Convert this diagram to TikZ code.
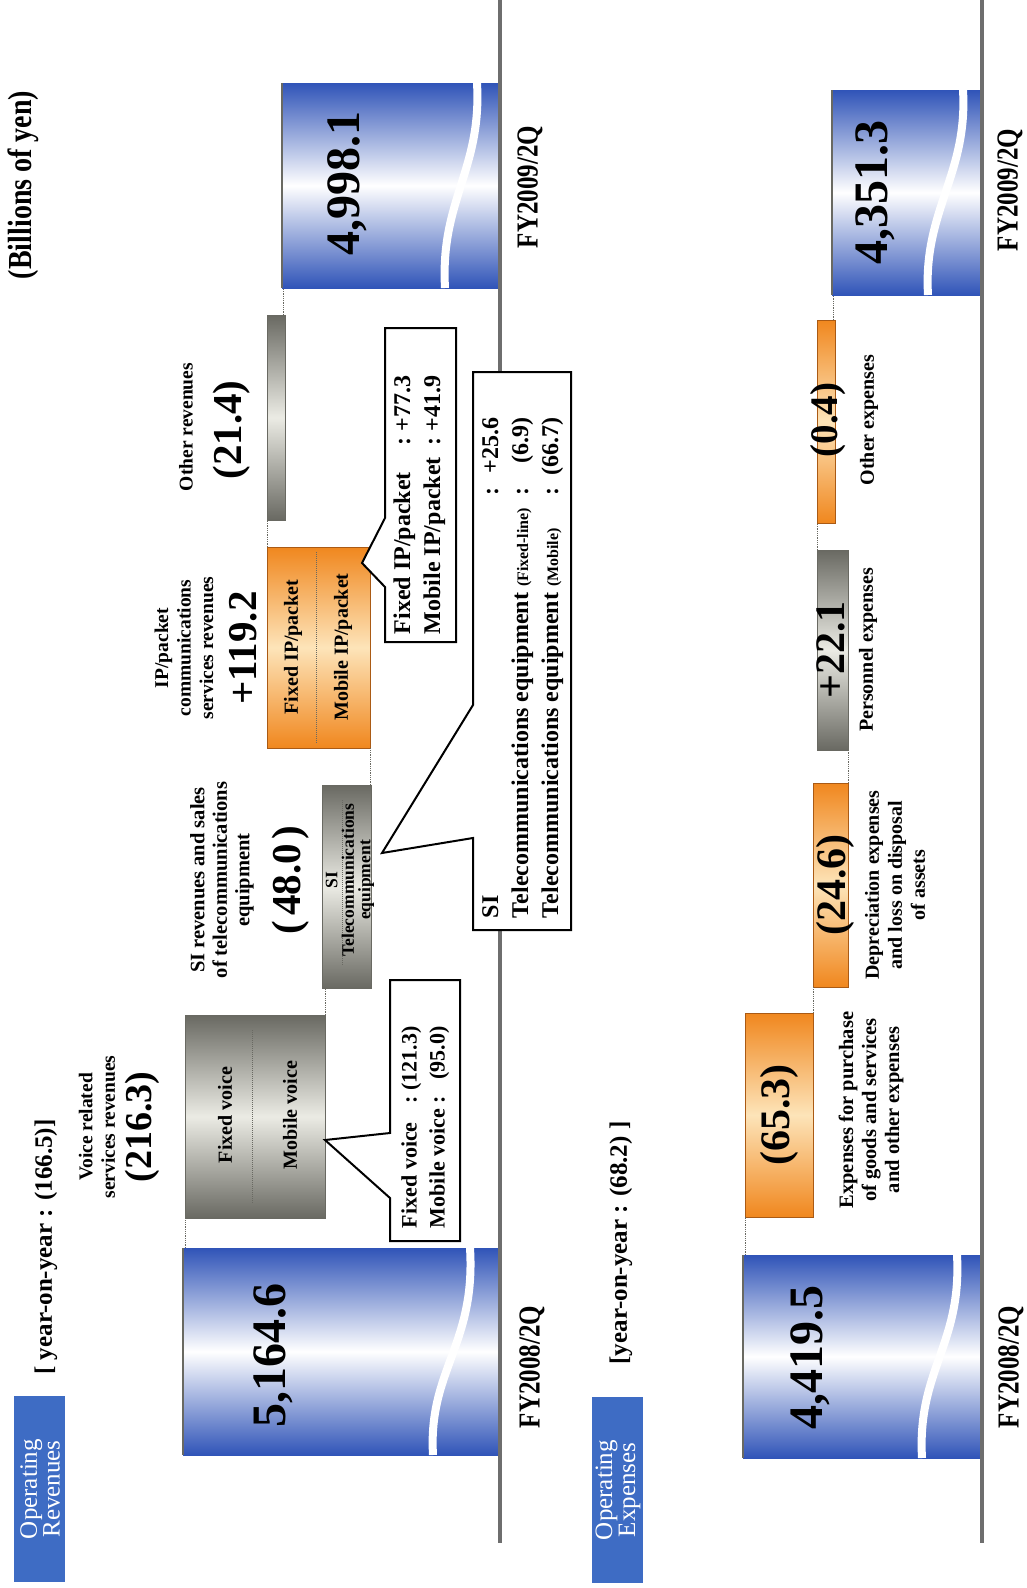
\documentclass[tikz,border=0pt]{standalone}
\usepackage{fontspec}
\usepackage{graphicx}
\setmainfont{Liberation Serif}
\definecolor{barblue}{RGB}{48,84,184}
\definecolor{tagblue}{RGB}{62,108,196}
\definecolor{orng}{RGB}{240,135,30}
\definecolor{orngL}{RGB}{253,228,185}
\definecolor{orngB}{RGB}{170,90,20}
\definecolor{gryD}{RGB}{105,105,98}
\definecolor{gryL}{RGB}{235,235,228}
\definecolor{axisgrey}{RGB}{110,110,110}
\begin{document}
\begin{tikzpicture}[x=1pt,y=-1pt,
  rt/.style={rotate=90, inner sep=0pt, outer sep=0pt},
  lbl/.style={rt, align=center, font=\bfseries\fontsize{19.5}{22.5}\selectfont},
  num/.style={rt, font=\bfseries\fontsize{41}{44}\selectfont},
  bignum/.style={rt, font=\bfseries\fontsize{48}{50}\selectfont},
  fy/.style={rt, font=\bfseries\fontsize{25}{30}\selectfont},
  inbar/.style={rt, font=\bfseries\fontsize{20}{22}\selectfont},
  callt/.style={rt, font=\bfseries\fontsize{24}{30}\selectfont},
  tagtxt/.style={rt, align=center, text=white, font=\fontsize{25}{19}\selectfont},
  yoy/.style={rt, font=\bfseries\fontsize{25}{28}\selectfont},
  bluebar/.style={top color=barblue, bottom color=barblue, middle color=white},
  greybar/.style={top color=gryD, bottom color=gryD, middle color=gryL, draw=gryD, line width=0.8},
  orangebar/.style={top color=orng, bottom color=orng, middle color=orngL, draw=orngB, line width=0.8},
  wave/.style={white, line width=8},
  baredge/.style={gryD, line width=1.5},
  link/.style={densely dotted, gryD, line width=0.8},
  axisline/.style={axisgrey, line width=4},
  callout/.style={fill=white, draw=black, line width=2, line join=miter},
  cshadow/.style={fill=gray!55},
  split/.style={densely dotted, gryD, line width=1}
]
\useasboundingbox (0,0) rectangle (1027,1588);

% ================= REVENUES =================
\path[bluebar] (183,1248) rectangle (500,1455);
\draw[wave] (470,1248) .. controls (476,1345) and (428,1370) .. (433,1455);
\draw[baredge] (183,1248) -- (183,1455);
\path[bluebar] (282,83) rectangle (500,288);
\draw[wave] (477,83) .. controls (482,170) and (440,200) .. (445,288);
\draw[baredge] (282,83) -- (282,288);

\path[greybar] (185,1015) rectangle (325,1218);
\draw[split] (252,1030) -- (252,1203);
\path[greybar] (322,785) rectangle (371,988);
\draw[split] (342,800) -- (342,965);
\path[orangebar] (267,547) rectangle (370,748);
\draw[split] (316,552) -- (316,743);
\path[greybar] (267,315) rectangle (285,520);

\draw[link] (185,1248) -- (185,1218);
\draw[link] (325,1015) -- (325,988);
\draw[link] (370,785) -- (370,748);
\draw[link] (267,547) -- (267,520);
\draw[link] (283,315) -- (283,288);

\draw[axisline] (500,0) -- (500,1543);

% callouts
\coordinate (v1) at (390,980); \coordinate (v2) at (460,980);
\coordinate (v3) at (460,1241); \coordinate (v4) at (390,1241);
\coordinate (v5) at (390,1198); \coordinate (vt) at (325,1140);
\coordinate (v6) at (390,1133);
\fill[cshadow, shift={(4,4)}] (v1) -- (v2) -- (v3) -- (v4) -- (v5) -- (vt) -- (v6) -- cycle;
\path[callout] (v1) -- (v2) -- (v3) -- (v4) -- (v5) -- (vt) -- (v6) -- cycle;

\coordinate (p1) at (385,328); \coordinate (p2) at (456,328);
\coordinate (p3) at (456,642); \coordinate (p4) at (385,642);
\coordinate (p5) at (385,587); \coordinate (pt) at (362,563);
\coordinate (p6) at (385,518);
\fill[cshadow, shift={(4,4)}] (p1) -- (p2) -- (p3) -- (p4) -- (p5) -- (pt) -- (p6) -- cycle;
\path[callout] (p1) -- (p2) -- (p3) -- (p4) -- (p5) -- (pt) -- (p6) -- cycle;

\coordinate (s1) at (473,372); \coordinate (s2) at (571,372);
\coordinate (s3) at (571,930); \coordinate (s4) at (473,930);
\coordinate (s5) at (473,838); \coordinate (st) at (382,853);
\coordinate (s6) at (473,705);
\fill[cshadow, shift={(4,4)}] (s1) -- (s2) -- (s3) -- (s4) -- (s5) -- (st) -- (s6) -- cycle;
\path[callout] (s1) -- (s2) -- (s3) -- (s4) -- (s5) -- (st) -- (s6) -- cycle;

\fill[tagblue] (14,1396) rectangle (65,1582);
\node[tagtxt] (revtag) at (40,1489) {Operating\\Revenues};
\node[yoy] (revyoy) at (46,1247) {[ year-on-year : (166.5)]};
\node[fy, font=\bfseries\fontsize{28}{30}\selectfont] (unit) at (23,185) {\scalebox{1}[1.2]{(Billions of yen)}};

\node[bignum] (r0) at (273,1355) {5,164.6};
\node[bignum] (r1) at (347,183) {4,998.1};
\node[fy] (fy08r) at (532,1367) {\scalebox{1}[1.22]{FY2008/2Q}};
\node[fy] (fy09r) at (530,187) {\scalebox{1}[1.22]{FY2009/2Q}};

\node[lbl] (voicel) at (97,1127) {Voice related\\services revenues};
\node[num, font=\bfseries\fontsize{38}{40}\selectfont] (voicen) at (142,1127) {(216.3)};
\node[inbar] (fv) at (225,1115) {Fixed voice};
\node[inbar] (mv) at (290,1115) {Mobile voice};

\node[lbl, font=\bfseries\fontsize{20.5}{22.5}\selectfont] (sil) at (222,880) {SI revenues and sales\\of telecommunications\\equipment};
\node[num] (sin) at (291,880) {(\hspace{5pt}48.0\hspace{5pt})};
\node[rt, align=center, font=\bfseries\fontsize{17.5}{16.5}\selectfont] (sib) at (350,880) {SI\\Telecommunications\\equipment};

\node[lbl] (ipl) at (184,648) {IP/packet\\communications\\services revenues};
\node[num] (ipn) at (243,648) {+119.2};
\node[inbar] (fip) at (293,647) {Fixed IP/packet};
\node[inbar] (mip) at (343,647) {Mobile IP/packet};

\node[lbl] (otl) at (186,427) {Other revenues};
\node[num] (otn) at (232,430) {(21.4)};

\node[callt, font=\bfseries\fontsize{22}{28}\selectfont, anchor=west] (cv) at (425,1228) {\begin{tabular}{@{}l@{\ :\ }r@{}}Fixed voice & (121.3)\\Mobile voice & (95.0)\end{tabular}};
\node[callt, anchor=west] (cp) at (419,634) {\begin{tabular}{@{}l@{\ \ :\ }r@{}}Fixed IP/packet & +77.3\\Mobile IP/packet & +41.9\end{tabular}};
\node[callt, anchor=west] (cs) at (522,918) {\begin{tabular}{@{}l@{\ \ :\ \ }r@{}}SI & +25.6\\Telecommunications equipment {\fontsize{16}{16}\selectfont(Fixed-line)} & (6.9)\\Telecommunications equipment {\fontsize{16}{16}\selectfont(Mobile)} & (66.7)\end{tabular}};

% ================= EXPENSES =================
\path[bluebar] (743,1255) rectangle (982,1458);
\draw[wave] (957,1255) .. controls (962,1345) and (917,1370) .. (922,1458);
\draw[baredge] (743,1255) -- (743,1458);
\path[bluebar] (832,90) rectangle (982,295);
\draw[wave] (963,90) .. controls (968,175) and (923,210) .. (928,295);
\draw[baredge] (832,90) -- (832,295);

\path[orangebar] (745,1013) rectangle (813,1217);
\path[orangebar] (813,783) rectangle (848,987);
\path[greybar] (817,550) rectangle (848,750);
\path[orangebar] (817,320) rectangle (835,523);

\draw[link] (745,1255) -- (745,1217);
\draw[link] (813,1013) -- (813,987);
\draw[link] (848,783) -- (848,750);
\draw[link] (817,550) -- (817,523);
\draw[link] (833,320) -- (833,295);

\draw[axisline] (982,0) -- (982,1543);

\fill[tagblue] (592,1397) rectangle (643,1583);
\node[tagtxt] (exptag) at (618,1490) {Operating\\Expenses};
\node[yoy] (expyoy) at (621,1243) {[year-on-year : (68.2) ]};

\node[bignum] (e0) at (810,1357) {4,419.5};
\node[bignum] (e1) at (875,192) {4,351.3};
\node[fy] (fy08e) at (1011,1367) {\scalebox{1}[1.22]{FY2008/2Q}};
\node[fy] (fy09e) at (1010,190) {\scalebox{1}[1.22]{FY2009/2Q}};

\node[num, font=\bfseries\fontsize{42}{44}\selectfont] (pn) at (779,1115) {(65.3)};
\node[lbl, font=\bfseries\fontsize{20.5}{23}\selectfont] (pl) at (871,1110) {Expenses for purchase\\of goods and services\\and other expenses};
\node[num, font=\bfseries\fontsize{42}{44}\selectfont] (dn) at (835,885) {(24.6)};
\node[lbl, font=\bfseries\fontsize{20}{23}\selectfont] (dl) at (895,885) {Depreciation expenses\\and loss on disposal\\of assets};
\node[num, font=\bfseries\fontsize{42}{44}\selectfont] (pen) at (831,650) {+22.1};
\node[lbl, font=\bfseries\fontsize{20}{23}\selectfont] (pel) at (868,650) {Personnel expenses};
\node[num, font=\bfseries\fontsize{39}{40}\selectfont] (on) at (828,420) {(0.4)};
\node[lbl, font=\bfseries\fontsize{20}{23}\selectfont] (ol) at (869,420) {Other expenses};
\end{tikzpicture}
\end{document}
